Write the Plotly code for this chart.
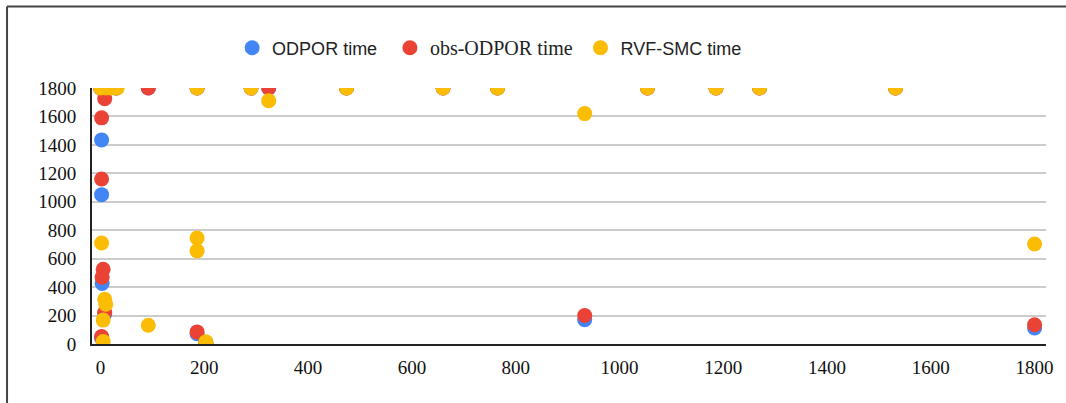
import plotly.graph_objects as go

# ---- data ----
odpor_x = [0, 10, 30, 92, 186, 290, 324, 474, 660, 765, 1054, 1186, 1270, 1532,
           2, 2, 3, 8, 2, 186, 203, 933, 1800]
odpor_y = [1800, 1800, 1800, 1800, 1800, 1800, 1800, 1800, 1800, 1800, 1800, 1800, 1800, 1800,
           1435, 1050, 425, 212, 40, 72, 5, 170, 113]

obs_x = [0, 8, 30, 92, 186, 290, 324, 474, 660, 765, 1054, 1186, 1270, 1532,
         2, 2, 5, 3, 8, 2, 186, 203, 933, 1800]
obs_y = [1800, 1725, 1800, 1800, 1800, 1800, 1800, 1800, 1800, 1800, 1800, 1800, 1800, 1800,
         1590, 1160, 525, 470, 222, 52, 85, 8, 200, 135]

rvf_x = [0, 10, 20, 32, 186, 290, 474, 660, 765, 1054, 1186, 1270, 1532,
         324, 2, 186, 186, 8, 10, 5, 92, 203, 5, 933, 1800]
rvf_y = [1800, 1800, 1800, 1800, 1800, 1800, 1800, 1800, 1800, 1800, 1800, 1800, 1800,
         1710, 710, 745, 655, 315, 280, 168, 132, 15, 18, 1620, 703]

x_ticks = [0, 200, 400, 600, 800, 1000, 1200, 1400, 1600, 1800]
y_ticks = [0, 200, 400, 600, 800, 1000, 1200, 1400, 1600, 1800]

# ---- figure ----
W, H = 1066, 403
ML, MR, MT, MB = 92, 14, 88, 59
pw, ph = W - ML - MR, H - MT - MB

fig = go.Figure()
series = [
    ('ODPOR time<span style="font-size:14px">&nbsp;&nbsp;</span>', odpor_x, odpor_y, "#4285F4"),
    ('<span style="font-family:Liberation Serif;font-size:20px">obs-ODPOR time</span>'
     '<span style="font-size:10px">&nbsp;</span>', obs_x, obs_y, "#EA4335"),
    ("RVF-SMC time", rvf_x, rvf_y, "#FBBC04"),
]
for name, xs, ys, col in series:
    fig.add_trace(go.Scatter(
        x=xs, y=ys, mode="markers", name=name,
        marker=dict(color=col, size=15, line=dict(width=0)),
        cliponaxis=True,
    ))

def px2paper(px, py):
    return (px - ML) / pw, (H - MB - py) / ph

lx, ty = px2paper(6.5, 6.5)
_, by = px2paper(6.5, 420)
rx, _ = px2paper(1080, 0)

fig.update_layout(
    width=W, height=H,
    margin=dict(l=ML, r=MR, t=MT, b=MB),
    paper_bgcolor="white", plot_bgcolor="white",
    showlegend=True,
    legend=dict(
        orientation="h", x=px2paper(233, 0)[0], xanchor="left",
        y=px2paper(0, 48)[1], yanchor="middle",
        font=dict(family="Liberation Sans, Arial", size=18, color="#222222"),
        itemsizing="trace",
    ),
    xaxis=dict(
        range=[-16.5, 1822], tickvals=x_ticks, ticktext=[str(v) for v in x_ticks],
        showgrid=False, zeroline=False,
        showline=True, linecolor="#222222", linewidth=2,
        ticks="", ticklabelstandoff=5,
        tickfont=dict(family="Liberation Serif, Times New Roman", size=19, color="#111111"),
    ),
    yaxis=dict(
        range=[0, 1800], tickvals=y_ticks, ticktext=[str(v) for v in y_ticks],
        showgrid=True, gridcolor="#cccccc", gridwidth=1.5, zeroline=False,
        showline=True, linecolor="#222222", linewidth=2,
        ticks="", ticklabelstandoff=10,
        tickfont=dict(family="Liberation Serif, Times New Roman", size=19, color="#111111"),
    ),
    shapes=[
        dict(type="line", xref="paper", yref="paper", x0=lx, x1=lx, y0=by, y1=ty,
             line=dict(color="#444444", width=2)),
        dict(type="line", xref="paper", yref="paper", x0=lx, x1=rx, y0=ty, y1=ty,
             line=dict(color="#444444", width=2)),
    ],
)

fig.write_html("out.html", config={"displayModeBar": False},
               post_script="document.body.style.margin='0';document.body.style.overflow='hidden';")
